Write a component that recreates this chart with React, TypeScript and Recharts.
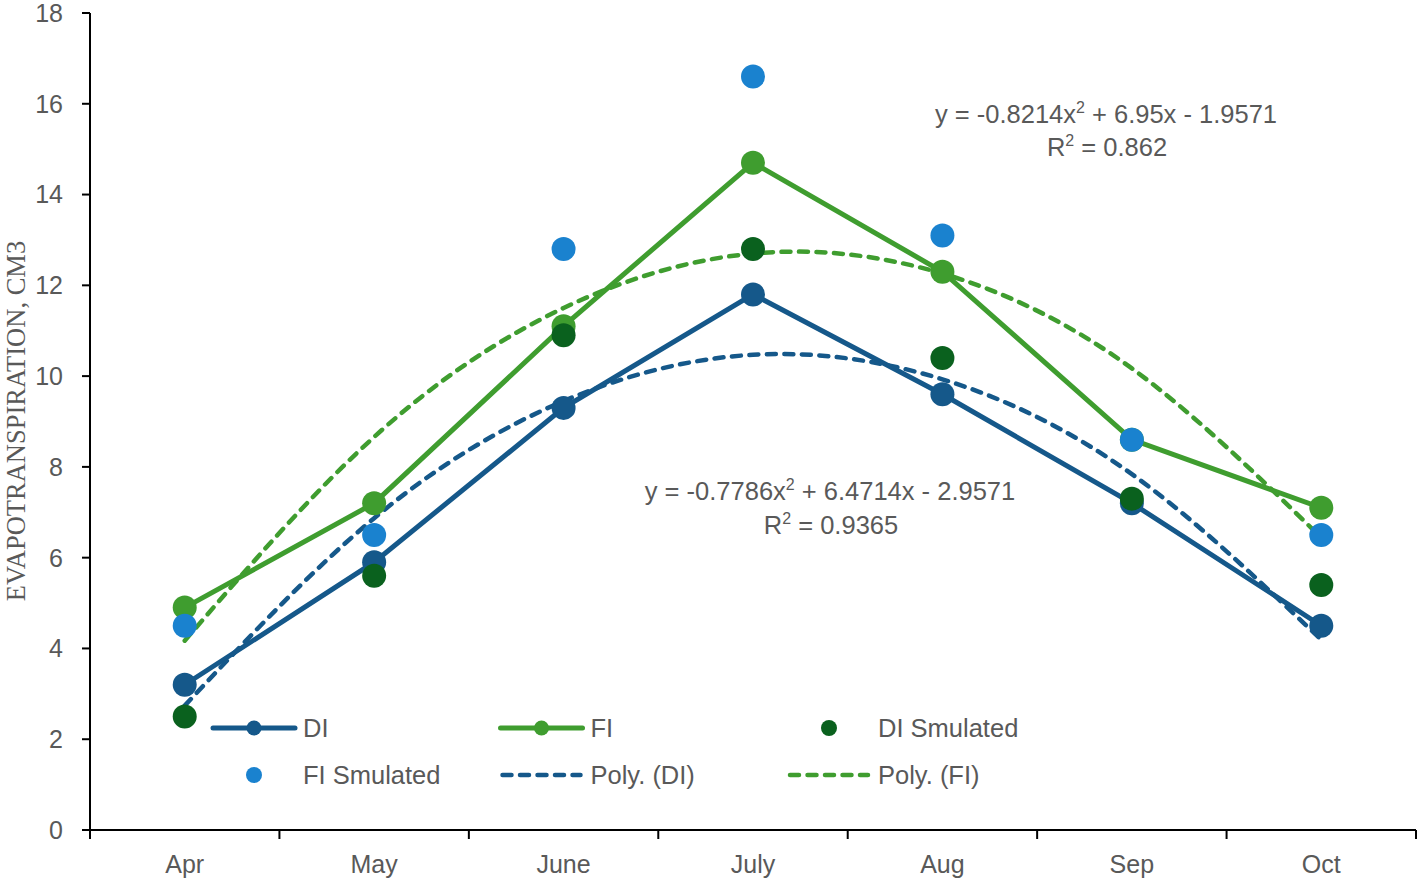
import React from 'react';
import { ComposedChart, Line, XAxis, YAxis, Legend } from 'recharts';

const months = ['Apr', 'May', 'June', 'July', 'Aug', 'Sep', 'Oct'];
const diValues = [3.2, 5.9, 9.3, 11.8, 9.6, 7.2, 4.5];
const fiValues = [4.9, 7.2, 11.1, 14.7, 12.3, 8.6, 7.1];
const diSimulated = [2.5, 5.6, 10.9, 12.8, 10.4, 7.3, 5.4];
const fiSimulated = [4.5, 6.5, 12.8, 16.6, 13.1, 8.6, 6.5];
const polyDi = [2.74, 6.87, 9.45, 10.47, 9.93, 7.84, 4.19];
const polyFi = [4.17, 8.66, 11.5, 12.7, 12.26, 10.17, 6.44];
const yTicks = [0, 2, 4, 6, 8, 10, 12, 14, 16, 18];

const DI_C = '#15588a';
const FI_C = '#3f9d2f';
const DISIM_C = '#0a611e';
const FISIM_C = '#1a82cf';
const TEXT_C = '#595959';
const SANS = '"Liberation Sans", Arial, sans-serif';
const SERIF = '"Liberation Serif", "Times New Roman", serif';

const data = months.map((name, i) => ({
  m: i + 1,
  name,
  di: diValues[i],
  fi: fiValues[i],
  diSim: diSimulated[i],
  fiSim: fiSimulated[i],
  polyDi: polyDi[i],
  polyFi: polyFi[i],
}));

// tick positions: band boundaries (x.5) and band centres (integers)
const xTicks: number[] = [];
for (let i = 0; i <= months.length; i++) {
  xTicks.push(i + 0.5);
  if (i < months.length) xTicks.push(i + 1);
}

const XTick = (props: any) => {
  const { x, y, payload } = props;
  const v = payload.value;
  if (Number.isInteger(v)) {
    return (
      <text x={x} y={y + 43} textAnchor="middle" fill={TEXT_C} fontSize={25} fontFamily={SANS}>
        {months[v - 1]}
      </text>
    );
  }
  return <line x1={x} x2={x} y1={y} y2={y + 9} stroke="#000" strokeWidth={2} />;
};

const legendItems = [
  { name: 'DI', kind: 'lineDot', color: DI_C },
  { name: 'FI', kind: 'lineDot', color: FI_C },
  { name: 'DI Smulated', kind: 'dot', color: DISIM_C },
  { name: 'FI Smulated', kind: 'dot', color: FISIM_C },
  { name: 'Poly. (DI)', kind: 'dash', color: DI_C },
  { name: 'Poly. (FI)', kind: 'dash', color: FI_C },
];

const renderLegend = () => (
  <svg width={1421} height={879} style={{ position: 'absolute', left: 0, top: 0 }}>
    {legendItems.map((it, i) => {
      const col = i % 3;
      const row = Math.floor(i / 3);
      const x0 = 213 + col * 287.5;
      const y = 728 + row * 47;
      return (
        <g key={it.name}>
          {it.kind === 'lineDot' && (
            <>
              <line x1={x0} x2={x0 + 82} y1={y} y2={y} stroke={it.color} strokeWidth={5} strokeLinecap="round" />
              <circle cx={x0 + 41} cy={y} r={7.5} fill={it.color} />
            </>
          )}
          {it.kind === 'dot' && <circle cx={x0 + 41} cy={y} r={8} fill={it.color} />}
          {it.kind === 'dash' && (
            <line
              x1={x0 + 2}
              x2={x0 + 80}
              y1={y}
              y2={y}
              stroke={it.color}
              strokeWidth={4.5}
              strokeDasharray="9 8.5"
              strokeLinecap="round"
            />
          )}
          <text x={x0 + 90} y={y + 9} fill={TEXT_C} fontSize={25.5} fontFamily={SANS}>
            {it.name}
          </text>
        </g>
      );
    })}
  </svg>
);

export default function App() {
  return (
    <div style={{ position: 'absolute', left: 0, top: 0, width: 1421, height: 879, background: '#fff' }}>
      <ComposedChart width={1421} height={879} data={data} margin={{ top: 13, right: 5, left: 0, bottom: 0 }}>
        <XAxis
          dataKey="m"
          type="number"
          domain={[0.5, 7.5]}
          ticks={xTicks}
          interval={0}
          height={49}
          tickLine={false}
          tickSize={0}
          tickMargin={0}
          axisLine={{ stroke: '#000', strokeWidth: 2 }}
          tick={<XTick />}
        />
        <YAxis
          type="number"
          domain={[0, 18]}
          ticks={yTicks}
          interval={0}
          width={90}
          tickSize={8}
          tickMargin={19}
          axisLine={{ stroke: '#000', strokeWidth: 2 }}
          tickLine={{ stroke: '#000', strokeWidth: 2 }}
          tick={{ fill: TEXT_C, fontSize: 25, fontFamily: SANS }}
        />
        <Legend verticalAlign="middle" align="center" layout="horizontal" wrapperStyle={{ left: 0, top: 0, width: 1421, height: 879 }} content={renderLegend} />
        <Line
          dataKey="di"
          name="DI"
          type="linear"
          stroke={DI_C}
          strokeWidth={5}
          dot={{ r: 12, fill: DI_C, stroke: 'none' }}
          activeDot={false}
          isAnimationActive={false}
        />
        <Line
          dataKey="fi"
          name="FI"
          type="linear"
          stroke={FI_C}
          strokeWidth={5}
          dot={{ r: 12, fill: FI_C, stroke: 'none' }}
          activeDot={false}
          isAnimationActive={false}
        />
        <Line
          dataKey="diSim"
          name="DI Smulated"
          type="linear"
          stroke="none"
          strokeWidth={0}
          dot={{ r: 12, fill: DISIM_C, stroke: 'none' }}
          activeDot={false}
          isAnimationActive={false}
        />
        <Line
          dataKey="fiSim"
          name="FI Smulated"
          type="linear"
          stroke="none"
          strokeWidth={0}
          dot={{ r: 12, fill: FISIM_C, stroke: 'none' }}
          activeDot={false}
          isAnimationActive={false}
        />
        <Line
          dataKey="polyDi"
          name="Poly. (DI)"
          type="natural"
          stroke={DI_C}
          strokeWidth={4.5}
          strokeDasharray="9 8.5"
          strokeLinecap="round"
          dot={false}
          activeDot={false}
          isAnimationActive={false}
        />
        <Line
          dataKey="polyFi"
          name="Poly. (FI)"
          type="natural"
          stroke={FI_C}
          strokeWidth={4.5}
          strokeDasharray="9 8.5"
          strokeLinecap="round"
          dot={false}
          activeDot={false}
          isAnimationActive={false}
        />
      </ComposedChart>
      <svg width={1421} height={879} style={{ position: 'absolute', left: 0, top: 0, pointerEvents: 'none' }}>
        <text
          x={25}
          y={421}
          transform="rotate(-90 25 421)"
          textAnchor="middle"
          fill={TEXT_C}
          fontSize={26.5}
          fontFamily={SERIF}
        >
          EVAPOTRANSPIRATION, CM3
        </text>
        <g fill={TEXT_C} fontSize={25.5} fontFamily={SANS} textAnchor="middle">
          <text x={1106} y={123}>
            y = -0.8214x<tspan dy={-10} fontSize={16}>2</tspan>
            <tspan dy={10}> + 6.95x - 1.9571</tspan>
          </text>
          <text x={1107} y={156}>
            R<tspan dy={-10} fontSize={16}>2</tspan>
            <tspan dy={10}> = 0.862</tspan>
          </text>
          <text x={830} y={500}>
            y = -0.7786x<tspan dy={-10} fontSize={16}>2</tspan>
            <tspan dy={10}> + 6.4714x - 2.9571</tspan>
          </text>
          <text x={831} y={534}>
            R<tspan dy={-10} fontSize={16}>2</tspan>
            <tspan dy={10}> = 0.9365</tspan>
          </text>
        </g>
      </svg>
    </div>
  );
}
